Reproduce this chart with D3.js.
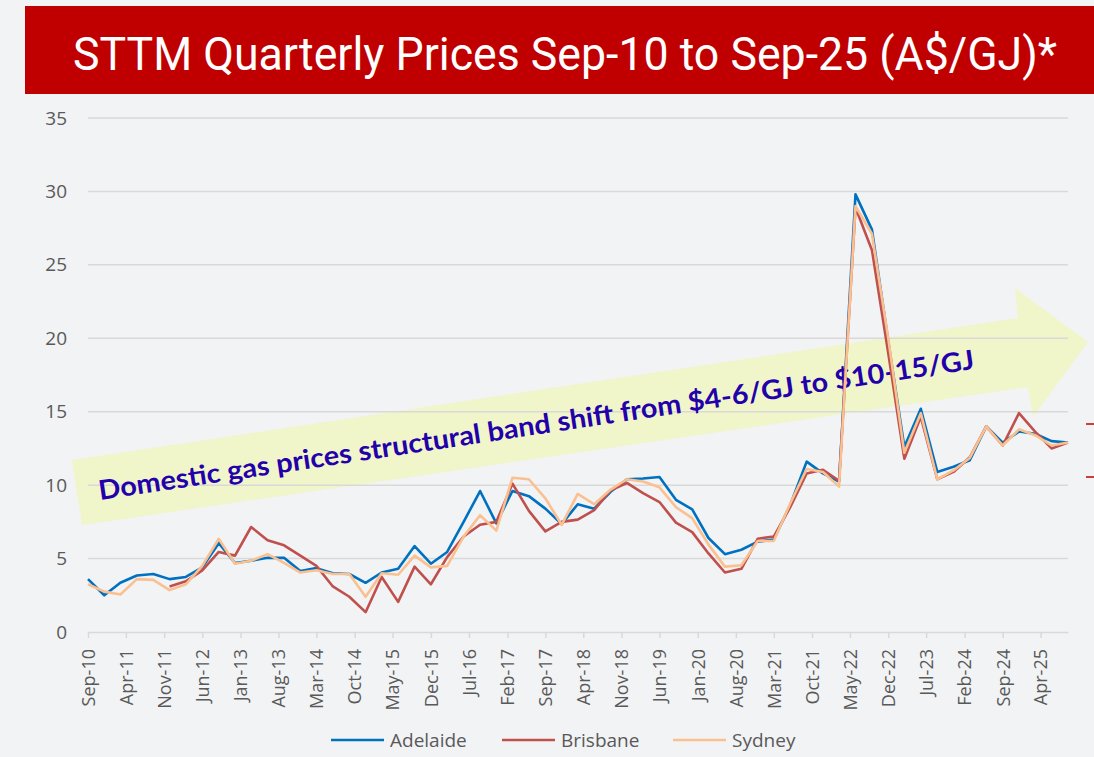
<!DOCTYPE html>
<html>
<head>
<meta charset="utf-8">
<title>STTM Quarterly Prices</title>
<script src="https://cdn.jsdelivr.net/npm/d3@7"></script>
<style>
  body { margin: 0; background: #f2f3f5; }
  svg { display: block; }
</style>
</head>
<body>
<script>
// Quarterly STTM prices (A$/GJ), Sep-10 .. Sep-25.
var adelaide = [3.6, 2.5, 3.35, 3.85, 3.95, 3.6, 3.75, 4.4, 6.05, 4.7,
  4.85, 5.05, 5.05, 4.15, 4.35, 4.0, 3.95, 3.35, 4.05, 4.3,
  5.85, 4.65, 5.45, 7.5, 9.6, 7.4, 9.6, 9.25, 8.4, 7.35,
  8.7, 8.4, 9.55, 10.4, 10.45, 10.55, 9.0, 8.35, 6.4, 5.3,
  5.6, 6.15, 6.3, 8.65, 11.6, 10.8, 10.25, 29.8, 27.4, 19.8,
  12.6, 15.2, 10.9, 11.25, 11.7, 14.0, 12.9, 13.65, 13.5, 13.0, 12.9];
var brisbane = [null, null, null, null, null, 3.1, 3.45, 4.2, 5.45, 5.2,
  7.15, 6.25, 5.9, 5.2, 4.5, 3.1, 2.4, 1.35, 3.75, 2.05,
  4.45, 3.25, 5.1, 6.5, 7.3, 7.5, 10.1, 8.25, 6.85, 7.5,
  7.65, 8.3, 9.65, 10.15, 9.45, 8.85, 7.45, 6.8, 5.35, 4.05,
  4.3, 6.35, 6.5, 8.5, 10.8, 11.05, 10.3, 28.9, 26.0, 19.0,
  11.8, 14.65, 10.4, 10.9, 11.9, 14.0, 12.7, 14.9, 13.65, 12.5, 12.9];
var sydney = [3.25, 2.75, 2.55, 3.6, 3.55, 2.85, 3.25, 4.5, 6.35, 4.65,
  4.85, 5.3, 4.7, 4.05, 4.2, 3.95, 3.95, 2.4, 4.0, 3.9,
  5.2, 4.4, 4.5, 6.5, 7.95, 6.9, 10.5, 10.4, 9.1, 7.3,
  9.4, 8.7, 9.7, 10.4, 10.25, 9.85, 8.5, 7.75, 5.95, 4.45,
  4.55, 6.2, 6.2, 8.75, 11.1, 10.9, 9.9, 29.0, 27.1, 20.0,
  12.2, 14.9, 10.4, 11.0, 11.85, 14.0, 12.7, 13.8, 13.4, 12.7, 12.9];

var seriesNames = ["Adelaide", "Brisbane", "Sydney"];
var seriesColors = ["#0070c0", "#c0504d", "#fac090"];

var xTickLabels = ["Sep-10", "Apr-11", "Nov-11", "Jun-12", "Jan-13", "Aug-13", "Mar-14",
  "Oct-14", "May-15", "Dec-15", "Jul-16", "Feb-17", "Sep-17", "Apr-18", "Nov-18",
  "Jun-19", "Jan-20", "Aug-20", "Mar-21", "Oct-21", "May-22", "Dec-22", "Jul-23",
  "Feb-24", "Sep-24", "Apr-25"];
var yTicks = [0, 5, 10, 15, 20, 25, 30, 35];

var titleText = "STTM Quarterly Prices Sep-10 to Sep-25 (A$/GJ)*";
var noteText = "Domestic gas prices structural band shift from $4-6/GJ to $10-15/GJ";

var w = 1094;
var h = 757;

var parseMonth = d3.timeParse("%b-%y");
var formatMonth = d3.timeFormat("%b-%y");
var firstDate = parseMonth("Sep-10");
var lastDate = parseMonth("Sep-25");
// one date per quarter
var quarters = d3.timeMonth.range(firstDate, d3.timeMonth.offset(lastDate, 1), 3);

var svg = d3.select("body").append("svg")
    .attr("width", w)
    .attr("height", h);

// Title bar
svg.append("rect")
    .attr("x", 25).attr("y", 6)
    .attr("width", w - 25).attr("height", 88)
    .attr("fill", "#c00000");
svg.append("text")
    .attr("x", 73).attr("y", 70)
    .attr("fill", "#ffffff")
    .style("font-family", "Roboto, 'Liberation Sans', sans-serif")
    .style("font-size", "46px")
    .attr("textLength", 984)
    .attr("lengthAdjust", "spacingAndGlyphs")
    .text(titleText);

var x = d3.scaleTime()
    .domain([firstDate, lastDate])
    .range([88, 1068]);

var y = d3.scaleLinear()
    .domain([0, 35])
    .range([632, 118]);

// The big pale arrow behind the lines.
var arrow = [[72, 460], [1018, 318], [1015, 288], [1088, 342], [1033, 417], [1028, 387], [82, 525]];
svg.append("polygon")
    .attr("points", arrow.map(p => p.join(",")).join(" "))
    .attr("fill", "#f1f5b0")
    .attr("opacity", 0.62);

// Gridlines
svg.append("g")
    .selectAll("line")
    .data(yTicks.filter(d => d > 0))
    .enter().append("line")
    .attr("x1", 88).attr("x2", 1068)
    .attr("y1", d => y(d)).attr("y2", d => y(d))
    .attr("stroke", "#d9d9d9")
    .attr("stroke-width", 1.5);

// y-axis labels, no axis line
svg.append("g")
    .attr("transform", "translate(88,0)")
    .call(d3.axisLeft(y).tickValues(yTicks).tickSize(0).tickPadding(21))
    .call(g => g.select(".domain").remove())
    .selectAll("text")
    .style("font-family", "'Open Sans', sans-serif")
    .style("font-size", "19px")
    .attr("fill", "#595959");

// x-axis
var xAxis = svg.append("g")
    .attr("transform", "translate(0,632)")
    .call(d3.axisBottom(x)
        .tickValues(xTickLabels.map(parseMonth))
        .tickFormat(formatMonth)
        .tickSize(6)
        .tickSizeOuter(0));
xAxis.select(".domain").attr("stroke", "#d9d9d9").attr("stroke-width", 1.5);
xAxis.selectAll(".tick line").attr("stroke", "#d9d9d9").attr("stroke-width", 1.5);
xAxis.selectAll("text")
    .style("font-family", "'Open Sans', sans-serif")
    .style("font-size", "18px")
    .attr("fill", "#595959")
    .style("text-anchor", "end")
    .attr("x", -17)
    .attr("y", 0)
    .attr("dy", "0.35em")
    .attr("transform", "rotate(-90)");

// Annotation text on the arrow
var noteAngle = Math.atan2(368 - 500, 980 - 100) * 180 / Math.PI;
svg.append("text")
    .attr("transform", "translate(100,500) rotate(" + noteAngle + ")")
    .attr("fill", "#2200aa")
    .style("font-family", "Lato, 'Open Sans', sans-serif")
    .style("font-weight", "bold")
    .style("font-size", "27px")
    .attr("textLength", 885)
    .attr("lengthAdjust", "spacingAndGlyphs")
    .text(noteText);

// Lines
var line = d3.line()
    .defined(d => d != null)
    .x((d, i) => x(quarters[i]))
    .y(d => y(d));

[adelaide, brisbane, sydney].forEach(function(values, k) {
    svg.append("path")
        .datum(values)
        .attr("fill", "none")
        .attr("stroke", seriesColors[k])
        .attr("stroke-width", 2.6)
        .attr("stroke-linejoin", "round")
        .attr("d", line);
});

// Legend
var legend = svg.append("g")
    .selectAll("g")
    .data(seriesNames)
    .enter().append("g")
    .attr("transform", (d, i) => "translate(" + (331 + i * 171) + ",740)");
legend.append("line")
    .attr("x1", 0).attr("x2", 53)
    .attr("stroke", (d, i) => seriesColors[i])
    .attr("stroke-width", 2.6);
legend.append("text")
    .attr("x", 59)
    .attr("dy", "0.35em")
    .style("font-family", "'Open Sans', sans-serif")
    .style("font-size", "19px")
    .attr("fill", "#595959")
    .text(d => d);

// little red marks cut off at the right edge of the slide
svg.selectAll(".edge")
    .data([424, 477])
    .enter().append("line")
    .attr("class", "edge")
    .attr("x1", 1086).attr("x2", 1094)
    .attr("y1", d => d).attr("y2", d => d)
    .attr("stroke", "#c00000")
    .attr("stroke-width", 1.5);
</script>
</body>
</html>
